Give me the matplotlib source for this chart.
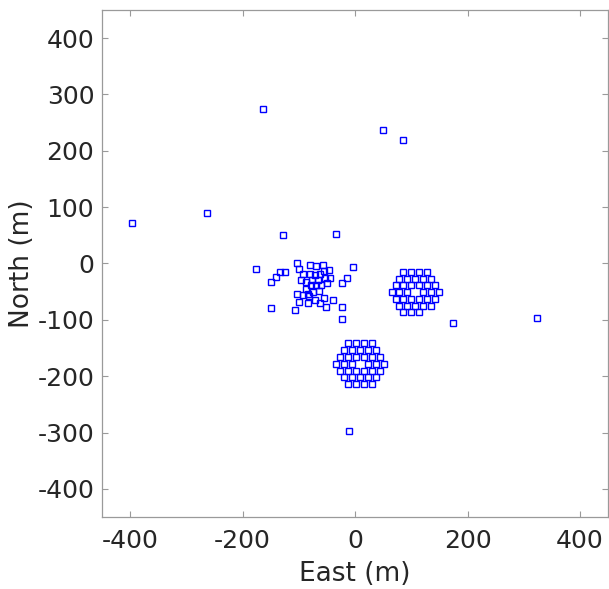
import numpy as np
import matplotlib.pyplot as plt

plt.rcParams['axes.unicode_minus'] = False

# isolated stations
far_east = [-396, -264, -163, 50, 85, -129, -34, 174, 324, -10]
far_north = [72, 90, 274, 237, 219, 51, 52, -106, -96, -297]

# loose group west of the origin
loose_east = [-176, -150, -140, -133, -124, -104, -100, -93, -96, -88,
              -80, -70, -57, -47, -3, -15, -23, -80, -71, -62,
              -55, -53, -44, -50, -60, -69, -78, -77, -65, -64,
              -75, -84, -93, -103, -99, -83, -81, -71, -62, -55,
              -51, -40, -106, -149, -24, -24, -87]
loose_north = [-9, -33, -24, -16, -15, 1, -9, -18, -30, -33,
               -2, -5, -3, -11, -6, -25, -35, -18, -21, -18,
               -14, -25, -25, -35, -38, -38, -39, -30, -30, -49,
               -51, -54, -56, -55, -68, -70, -58, -64, -71, -62,
               -77, -64, -82, -79, -77, -98, -45]

# hexagonal array north-east
hex1_east = [86, 100, 114, 128,
             79, 93, 107, 121, 135,
             72, 86, 100, 114, 128, 142,
             65, 79, 93, 121, 135, 149,
             72, 86, 100, 114, 128, 142,
             79, 93, 107, 121, 135,
             86, 100, 114]
hex1_north = [-15] * 4 + [-27] * 5 + [-39] * 6 + [-51] * 6 + [-63] * 6 + [-75] * 5 + [-87] * 3

# hexagonal array south
hex2_east = [-12, 2, 16, 30,
             -19, -5, 9, 23, 37,
             -26, -12, 2, 16, 30, 44,
             -33, -19, -5, 23, 37, 51,
             -26, -12, 2, 16, 30, 44,
             -19, -5, 9, 23, 37,
             -12, 2, 16, 30]
hex2_north = [-142] * 4 + [-154] * 5 + [-166] * 6 + [-178] * 6 + [-190] * 6 + [-202] * 5 + [-214] * 4

east = np.array(far_east + loose_east + hex1_east + hex2_east)
north = np.array(far_north + loose_north + hex1_north + hex2_north)

txt = '#262626'
grey = '#9a9a9a'

fig = plt.figure(figsize=(6.09, 5.89), dpi=100)
ax = fig.add_axes([0.1675, 0.1222, 0.831, 0.861])
ax.plot(east, north, 's', mfc='none', mec='#0000ff', ms=5, mew=1.0)

ax.set_xlim(-450, 450)
ax.set_ylim(-450, 450)
ax.set_xticks([-400, -200, 0, 200, 400])
ax.set_yticks(np.arange(-400, 401, 100))
ax.tick_params(direction='in', top=True, right=True, length=4, width=0.8,
               color=grey, labelcolor=txt, labelsize=18)
ax.tick_params(axis='x', pad=8.5)
ax.tick_params(axis='y', pad=5.5)
for s in ax.spines.values():
    s.set_color(grey)
    s.set_linewidth(0.9)
ax.set_xlabel('East (m)', fontsize=19, color=txt, labelpad=6)
ax.set_ylabel('North (m)', fontsize=19, color=txt, labelpad=1.5)

fig.savefig('out.png', dpi=100)
